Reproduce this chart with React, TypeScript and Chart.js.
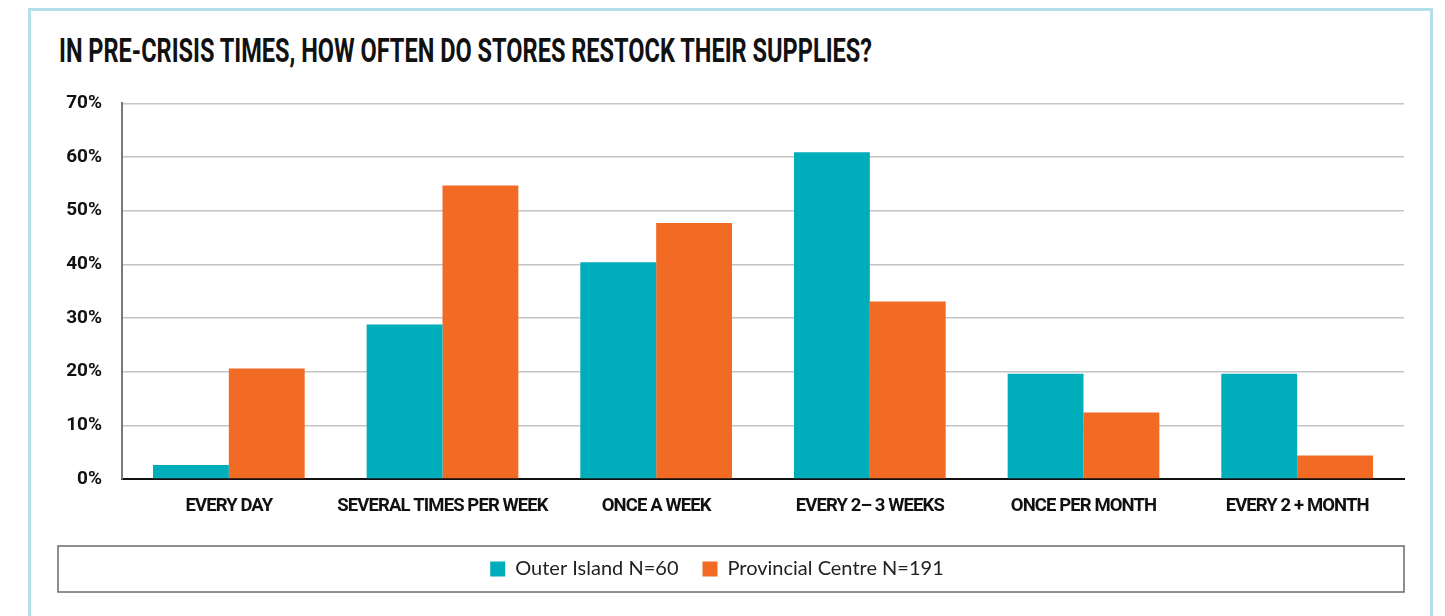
import React, { useEffect, useLayoutEffect, useRef } from "react";
import { Chart, registerables } from "chart.js";

Chart.register(...registerables);

const titleText = "IN PRE-CRISIS TIMES, HOW OFTEN DO STORES RESTOCK THEIR SUPPLIES?";
const categories = [
  "EVERY DAY",
  "SEVERAL TIMES PER WEEK",
  "ONCE A WEEK",
  "EVERY 2\u2013 3 WEEKS",
  "ONCE PER MONTH",
  "EVERY 2 + MONTH",
];
const seriesLabels = ["Outer Island N=60", "Provincial Centre N=191"];
const outerIsland = [2.6, 28.8, 40.4, 60.9, 19.6, 19.6];
const provincialCentre = [20.6, 54.7, 47.7, 33.1, 12.4, 4.4];
const yMin = 0;
const yMax = 70;
const yStep = 10;

const TEAL = "#00adbb";
const ORANGE = "#f26b25";
const COND = "Roboto, 'Liberation Sans', sans-serif";

const legendBorderPlugin = {
  id: "legendBorder",
  afterDatasetsDraw(chart: any) {
    // tighten the x tick labels (drawn after datasets, z = 1)
    (chart.ctx as any).letterSpacing = "-0.9px";
  },
  afterDraw(chart: any) {
    const ctx = chart.ctx;
    (ctx as any).letterSpacing = "0px";
    const lg = chart.legend;
    if (!lg || !lg.legendHitBoxes || !lg.legendHitBoxes.length) return;
    const hb = lg.legendHitBoxes[0];
    const cy = hb.top + hb.height / 2;
    ctx.save();
    ctx.strokeStyle = "#6a6a6a";
    ctx.lineWidth = 1.5;
    ctx.strokeRect(28, cy - 23, 1346, 46);
    ctx.restore();
  },
};

export default function App() {
  const canvasRef = useRef<HTMLCanvasElement | null>(null);
  const titleRef = useRef<HTMLSpanElement | null>(null);

  useLayoutEffect(() => {
    const el = titleRef.current;
    if (!el) return;
    el.style.transform = "none";
    const w = el.getBoundingClientRect().width;
    if (w > 0) el.style.transform = `scaleX(${813 / w})`;
  }, []);

  useEffect(() => {
    if (!canvasRef.current) return;
    const tickFont = (size: number) => ({ family: COND, weight: "bold", size });
    const chart = new Chart(canvasRef.current, {
      type: "bar",
      data: {
        labels: categories,
        datasets: [
          {
            label: seriesLabels[0],
            data: outerIsland,
            backgroundColor: TEAL,
            borderWidth: 0,
            categoryPercentage: 0.71,
            barPercentage: 1.0,
          },
          {
            label: seriesLabels[1],
            data: provincialCentre,
            backgroundColor: ORANGE,
            borderWidth: 0,
            categoryPercentage: 0.71,
            barPercentage: 1.0,
          },
        ],
      },
      options: {
        responsive: false,
        animation: false,
        layout: { padding: { top: 12, right: 16, bottom: 21, left: 0 } },
        plugins: {
          title: { display: false },
          tooltip: { enabled: false },
          legend: {
            position: "bottom",
            labels: {
              boxWidth: 15,
              boxHeight: 15,
              padding: 24,
              color: "#222",
              font: { family: "Lato, 'Open Sans', sans-serif", size: 20 },
            },
          },
        },
        scales: {
          x: {
            grid: { display: false, drawTicks: false },
            border: { color: "#111", width: 2 },
            ticks: {
              z: 1,
              color: "#111",
              padding: 16,
              maxRotation: 0,
              autoSkip: false,
              font: tickFont(18.5) as any,
            },
            afterFit: (s: any) => {
              s.height = 56;
            },
          },
          y: {
            min: yMin,
            max: yMax,
            ticks: {
              stepSize: yStep,
              padding: 20,
              color: "#111",
              font: tickFont(19) as any,
              callback: (v: any) => `${v}%`,
            },
            grid: {
              drawTicks: false,
              lineWidth: 1.5,
              color: (ctx: any) => (ctx.tick && ctx.tick.value === 0 ? "rgba(0,0,0,0)" : "#c4c4c4"),
            },
            border: { color: "#7a7a7a", width: 2 },
            afterFit: (s: any) => {
              s.width = 92;
            },
          },
        },
      },
      plugins: [legendBorderPlugin],
    });
    return () => chart.destroy();
  }, []);

  return (
    <div style={{ position: "fixed", inset: 0, overflow: "hidden", background: "#fff" }}>
      <div
        style={{
          position: "absolute",
          left: 28,
          top: 8,
          width: 1405,
          height: 700,
          boxSizing: "border-box",
          border: "3px solid #b5dfe8",
        }}
      />
      <div style={{ position: "absolute", left: 59, top: 34, whiteSpace: "nowrap" }}>
        <span
          ref={titleRef}
          style={{
            display: "inline-block",
            transformOrigin: "left top",
            fontFamily: COND,
            fontWeight: "bold",
            fontSize: 33,
            lineHeight: "33px",
            color: "#111",
          }}
        >
          {titleText}
        </span>
      </div>
      <canvas
        ref={canvasRef}
        width={1390}
        height={538}
        style={{ position: "absolute", left: 30, top: 72, width: 1390, height: 538 }}
      />
    </div>
  );
}
